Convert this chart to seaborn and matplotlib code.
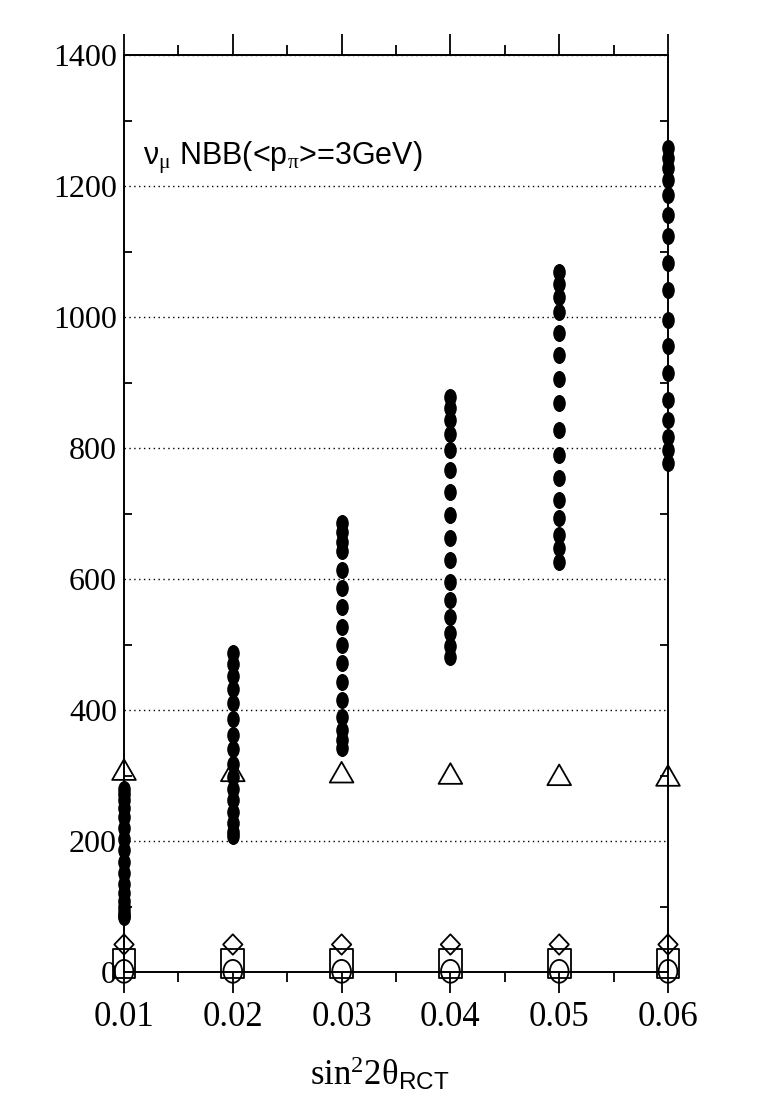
import numpy as np
import pandas as pd
import matplotlib
matplotlib.use("Agg")
import matplotlib.pyplot as plt
from matplotlib.path import Path
from matplotlib.markers import MarkerStyle
from matplotlib.ticker import MultipleLocator
import seaborn as sns

# sin^2 2theta values
s2t = [0.01, 0.02, 0.03, 0.04, 0.05, 0.06]

# filled dots: one column of event numbers per sin^2 2theta
nbb_001 = [280, 272, 262, 250, 236, 220, 203, 186, 168, 151, 135, 121, 109, 99, 91, 86, 84]
nbb_002 = [487, 470, 452, 432, 410, 386, 362, 340, 318, 298, 280, 262, 245, 228, 214, 208]
nbb_003 = [685, 672, 657, 642, 614, 586, 558, 527, 499, 471, 443, 415, 390, 369, 354, 342]
nbb_004 = [878, 861, 843, 822, 797, 766, 733, 698, 662, 629, 596, 568, 542, 517, 497, 481]
nbb_005 = [1069, 1051, 1031, 1008, 975, 942, 906, 868, 827, 789, 754, 721, 693, 667, 647, 626]
nbb_006 = [1258, 1242, 1227, 1209, 1186, 1156, 1123, 1082, 1041, 995, 955, 914, 873, 843, 817, 797, 777]
nbb_cols = [nbb_001, nbb_002, nbb_003, nbb_004, nbb_005, nbb_006]

# open symbols (backgrounds)
tri_vals = [309, 307, 305, 303, 301, 300]
dia_vals = [42, 42, 42, 42, 42, 42]
sq_vals = [13, 13, 13, 13, 13, 13]
circ_vals = [1, 1, 1, 1, 1, 1]

rows = []
for xv, col in zip(s2t, nbb_cols):
    for yv in col:
        rows.append((xv, yv))
dots = pd.DataFrame(rows, columns=["s2t", "events"])
opens = pd.DataFrame({"s2t": s2t, "tri": tri_vals, "dia": dia_vals,
                      "sq": sq_vals, "circ": circ_vals})


def shape(verts):
    v = list(verts) + [verts[0]]
    codes = [Path.MOVETO] + [Path.LINETO] * (len(verts) - 1) + [Path.CLOSEPOLY]
    return MarkerStyle(Path(v, codes))


def ellipse(ratio):
    c = Path.unit_circle()
    return MarkerStyle(Path(c.vertices * [ratio, 1.0], c.codes))


sns.set_style("white")
plt.rcParams["font.family"] = ["Liberation Serif", "DejaVu Serif"]
plt.rcParams["mathtext.fontset"] = "custom"
plt.rcParams["mathtext.rm"] = "Liberation Serif"
plt.rcParams["mathtext.it"] = "Liberation Serif"
plt.rcParams["mathtext.sf"] = "Liberation Sans"
for k in ["text.color", "axes.labelcolor", "xtick.color", "ytick.color"]:
    plt.rcParams[k] = "black"

fig = plt.figure(figsize=(7.64, 11.11), dpi=100)
ax = fig.add_axes([124 / 764, 1 - 972 / 1111, 544 / 764, 917 / 1111])

ax.yaxis.grid(True, linestyle=(0, (1, 2.5)), color="black", linewidth=1.0)
ax.set_axisbelow(True)

sns.scatterplot(data=dots, x="s2t", y="events", ax=ax, marker=ellipse(0.74),
                s=150, color="black", edgecolor="black", linewidth=0,
                clip_on=False, zorder=3)

open_kw = dict(ax=ax, facecolor="none", edgecolor="black", linewidth=1.3,
               clip_on=False, zorder=4)
sns.scatterplot(data=opens, x="s2t", y="tri",
                marker=shape([(-1, -0.87), (1, -0.87), (0, 0.87)]), s=290, **open_kw)
sns.scatterplot(data=opens, x="s2t", y="dia",
                marker=shape([(0, 1), (0.95, 0), (0, -1), (-0.95, 0)]), s=215, **open_kw)
sns.scatterplot(data=opens, x="s2t", y="sq",
                marker=shape([(-0.81, -1), (0.81, -1), (0.81, 1), (-0.81, 1)]), s=410, **open_kw)
sns.scatterplot(data=opens, x="s2t", y="circ", marker=ellipse(0.82), s=270, **open_kw)

ax.set_xlim(0.01, 0.06)
ax.set_ylim(0, 1400)
ax.set_xlabel("")
ax.set_ylabel("")

ax.xaxis.set_minor_locator(MultipleLocator(0.005))
ax.yaxis.set_minor_locator(MultipleLocator(100))
ax.set_xticks(s2t)
ax.set_xticklabels(["0.01", "0.02", "0.03", "0.04", "0.05", "0.06"], fontsize=25)
ax.set_yticks([0, 200, 400, 600, 800, 1000, 1200, 1400])
ax.set_yticklabels(["0", "200", "400", "600", "800", "1000", "1200", "1400"], fontsize=23)

ax.tick_params(axis="x", which="major", direction="out", length=15, width=1.3,
               top=True, bottom=True, pad=6)
ax.tick_params(axis="x", which="minor", direction="out", length=7, width=1.3,
               top=True, bottom=True)
ax.tick_params(axis="y", which="major", direction="in", length=0, pad=5)
ax.tick_params(axis="y", which="minor", direction="in", length=6, width=1.3,
               left=True, right=True)

for sp in ax.spines.values():
    sp.set_visible(True)
    sp.set_color("black")
    sp.set_linewidth(1.4)

fig.text(143 / 764, 1 - 165 / 1111, "ν$_{\\mu}$ NBB(<p$_{\\pi}$>=3GeV)",
         fontsize=22, family=["Liberation Sans", "DejaVu Sans"], va="baseline")

fig.text(380 / 764, 1 - 1085 / 1111, "sin$^{2}$2θ$_{\\mathsf{RCT}}$",
         fontsize=25, ha="center", va="baseline")

fig.savefig("out.png", dpi=100)
